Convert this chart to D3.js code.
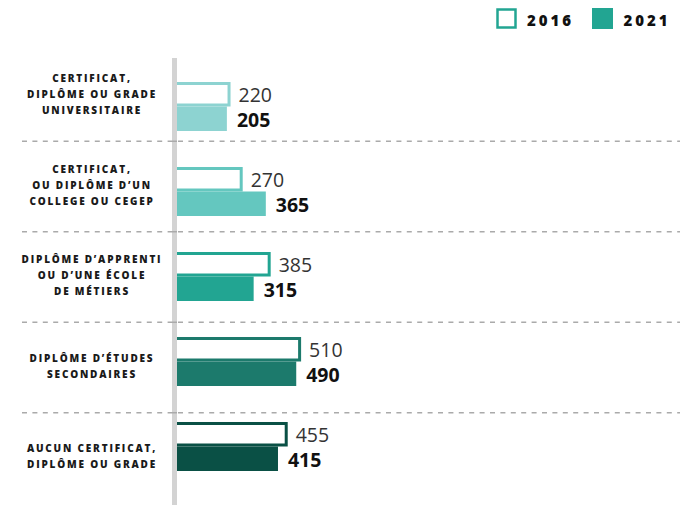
<!DOCTYPE html>
<html><head><meta charset="utf-8">
<script src="https://cdn.jsdelivr.net/npm/d3@7"></script>
<style>html,body{margin:0;padding:0;background:#fff;}svg{display:block;}</style>
</head><body>
<svg id="c" width="686" height="505"></svg>
<script>
const categories = [
  ["CERTIFICAT,", "DIPLÔME OU GRADE", "UNIVERSITAIRE"],
  ["CERTIFICAT,", "OU DIPLÔME D’UN", "COLLEGE OU CEGEP"],
  ["DIPLÔME D’APPRENTI", "OU D’UNE ÉCOLE", "DE MÉTIERS"],
  ["DIPLÔME D’ÉTUDES", "SECONDAIRES"],
  ["AUCUN CERTIFICAT,", "DIPLÔME OU GRADE"]
];
const seriesNames = ["2016", "2021"];
const values2016 = [220, 270, 385, 510, 455];
const values2021 = [205, 365, 315, 490, 415];
const colors = ["#8dd3d1", "#64c7bf", "#22a592", "#1c7a6c", "#0a5045"];
const legendColor = "#22a592";

const svg = d3.select("#c");
const idx = d3.range(categories.length);

const x = d3.scaleLinear().domain([0, 600]).range([177, 323]);
const yBars = d3.scaleBand().domain(idx).range([82, 471]).paddingInner(0.4235).paddingOuter(0);
const ySub = d3.scaleBand().domain(seriesNames).range([0, yBars.bandwidth()]);
const yLabels = d3.scaleBand().domain(idx).range([50.75, 503.25]);

// separators
idx.slice(1).forEach(i => {
  const yy = yLabels(i);
  svg.append("line").attr("x1", 22).attr("x2", 680).attr("y1", yy).attr("y2", yy)
    .attr("stroke", "#aaaaaa").attr("stroke-width", 1.5).attr("stroke-dasharray", "5,5.4");
});

const g = svg.append("g");
// 2016 outlined bars
g.selectAll("rect.b16").data(idx).join("rect").attr("class", "b16")
  .attr("x", x(0) - 3.5)
  .attr("y", i => yBars(i) + ySub("2016") + 1.5)
  .attr("width", i => x(values2016[i]) - x(0) + 3.5 - 1.5)
  .attr("height", ySub.bandwidth() - 3)
  .attr("fill", "#fff").attr("stroke", i => colors[i]).attr("stroke-width", 3);
// 2021 filled bars
g.selectAll("rect.b21").data(idx).join("rect").attr("class", "b21")
  .attr("x", x(0))
  .attr("y", i => yBars(i) + ySub("2021"))
  .attr("width", i => x(values2021[i]) - x(0))
  .attr("height", ySub.bandwidth())
  .attr("fill", i => colors[i]);

// zero line on top of bar left edges
svg.append("rect").attr("x", x(0) - 5).attr("y", 58).attr("width", 5).attr("height", 505 - 58).attr("fill", "#d3d3d3");
idx.slice(1).forEach(i => {
  const yy = yLabels(i);
  svg.append("line").attr("x1", x(0) - 5).attr("x2", x(0)).attr("y1", yy).attr("y2", yy)
    .attr("stroke", "#aaaaaa").attr("stroke-width", 1.5);
});

// value labels
g.selectAll("text.v16").data(idx).join("text").attr("class", "v16")
  .attr("x", i => x(values2016[i]) + 8)
  .attr("y", i => yBars(i) + ySub("2016") + ySub.bandwidth() / 2)
  .attr("dy", "0.42em")
  .attr("font-family", "'Open Sans', sans-serif").attr("font-size", 19.5)
  .attr("fill", "#333").text(i => values2016[i]);
g.selectAll("text.v21").data(idx).join("text").attr("class", "v21")
  .attr("x", i => x(values2021[i]) + 10)
  .attr("y", i => yBars(i) + ySub("2021") + ySub.bandwidth() / 2)
  .attr("dy", "0.4em")
  .attr("font-family", "'Open Sans', sans-serif").attr("font-size", 19.5).attr("font-weight", 700)
  .attr("fill", "#111").text(i => values2021[i]);

// category labels
idx.forEach(i => {
  const lines = categories[i];
  const cy = yLabels(i) + yLabels.bandwidth() / 2;
  const lh = 16;
  const t = svg.append("text").attr("text-anchor", "middle")
    .attr("font-family", "'Open Sans', sans-serif").attr("font-size", 10).attr("font-weight", 800)
    .attr("letter-spacing", 1.8).attr("fill", "#1a1a1a");
  lines.forEach((l, k) => {
    t.append("tspan").attr("x", 92).attr("y", cy + 2 + (k - (lines.length - 1) / 2) * lh).text(l);
  });
});

// legend
const leg = svg.append("g");
leg.append("rect").attr("x", 497.5).attr("y", 9.5).attr("width", 18).attr("height", 18)
  .attr("fill", "#fff").attr("stroke", legendColor).attr("stroke-width", 2.5);
leg.append("text").attr("x", 527).attr("y", 26).attr("font-family", "'Open Sans', sans-serif")
  .attr("font-size", 15).attr("font-weight", 800).attr("letter-spacing", 3).attr("fill", "#111").text(seriesNames[0]);
leg.append("rect").attr("x", 592).attr("y", 8).attr("width", 21).attr("height", 21).attr("fill", legendColor);
leg.append("text").attr("x", 623.5).attr("y", 26).attr("font-family", "'Open Sans', sans-serif")
  .attr("font-size", 15).attr("font-weight", 800).attr("letter-spacing", 3).attr("fill", "#111").text(seriesNames[1]);
</script>
</body></html>
